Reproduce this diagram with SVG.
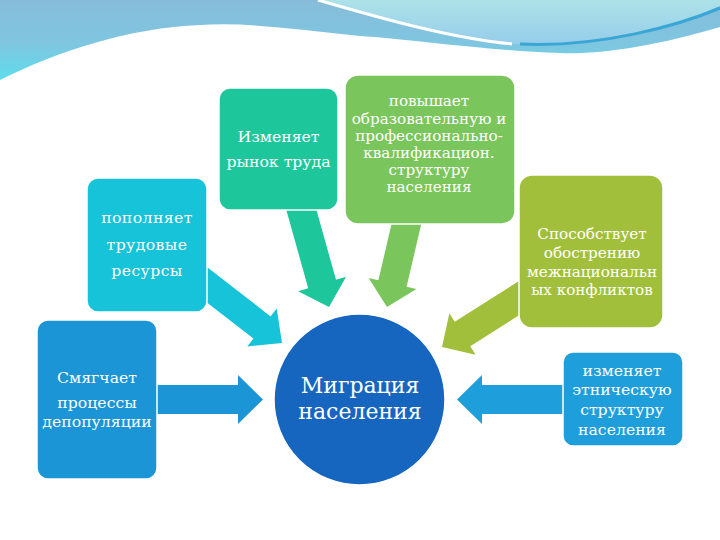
<svg xmlns="http://www.w3.org/2000/svg" width="720" height="540" viewBox="0 0 720 540">
<defs>
<linearGradient id="gTop" x1="0" y1="0" x2="0" y2="1">
<stop offset="0" stop-color="#86bcda"/>
<stop offset="0.55" stop-color="#7fc6e0"/>
<stop offset="1" stop-color="#5fdcec"/>
</linearGradient>
<linearGradient id="gLight" x1="0" y1="0" x2="0" y2="1">
<stop offset="0" stop-color="#ade2e8"/>
<stop offset="1" stop-color="#95cdea"/>
</linearGradient>
<style>
.t{font-family:"DejaVu Serif","Liberation Serif",serif;fill:#ffffff;text-anchor:middle;}
.s14{font-size:15.2px;}
.s15{font-size:15.7px;}
.big{font-size:22px;}
.box{stroke:#ffffff;stroke-width:1.5;}
</style>
</defs>
<rect width="720" height="540" fill="#ffffff"/>
<g id="header">
<path d="M0,0 H720 V27 C660,45 600,55 560,53 C480,50 420,40 360,36 C300,30 250,22 200,25 C130,28 60,50 0,80 Z" fill="url(#gTop)"/>
<path d="M318,0 C380,18 450,38 512,44 C600,50 680,25 720,6 V0 Z" fill="url(#gLight)"/>
<path d="M318,0 C380,18 450,38 512,44" fill="none" stroke="#ffffff" stroke-width="3"/>
<path d="M520,44 C600,48 680,25 720,8" fill="none" stroke="#3aa6d6" stroke-width="3"/>
</g>
<g id="connectors">
<polygon fill="#1ec79b" points="313.9,200.8 336,279.8 346.1,276.8 329,307 298.1,291.2 308.2,288.2 286.1,209.2"/>
<polygon fill="#7ac55c" points="421.9,221.3 406.6,286.8 416.4,289.1 387,307 368.6,277.9 378.4,280.2 393.7,214.7"/>
<polygon fill="#a2bf3c" points="542,300.7 470.3,346.2 475.6,354.7 442,347 449.4,313.3 454.7,321.8 526.4,276.3"/>
<polygon fill="#17c3d8" points="199.5,261.3 270.6,316.4 276.7,308.5 282,343 247.3,346.5 253.4,338.6 182.3,283.5"/>
<polygon fill="#1b95d6" points="150,385 238,385 238,375 263,399.5 238,424 238,414 150,414"/>
<polygon fill="#1e9edb" points="570,385 482,385 482,375 457,399.5 482,424 482,414 570,414"/>
</g>
<g id="n-rynok">
<rect class="box" x="219" y="88" width="119" height="122" rx="11" fill="#1ec79b"/>
<text class="t s15" x="278.5" y="142">Изменяет</text>
<text class="t s15" x="278.5" y="167">рынок труда</text>
</g>
<g id="n-popolnyaet">
<rect class="box" x="87" y="178" width="120" height="134" rx="11" fill="#17c3d8"/>
<text class="t s15" x="147" y="223" letter-spacing="0.4">пополняет</text>
<text class="t s15" x="147" y="250" letter-spacing="0.4">трудовые</text>
<text class="t s15" x="147" y="276" letter-spacing="0.4">ресурсы</text>
</g>
<g id="n-povyshaet">
<rect class="box" x="345" y="75" width="170" height="149" rx="13" fill="#7ac55c"/>
<text class="t s14" x="429" y="106">повышает</text>
<text class="t s14" x="429" y="123.5">образовательную и</text>
<text class="t s14" x="429" y="141">профессионально-</text>
<text class="t s14" x="429" y="158">квалификацион.</text>
<text class="t s14" x="429" y="175">структуру</text>
<text class="t s14" x="429" y="192">населения</text>
</g>
<g id="n-sposobstvuet">
<rect class="box" x="519" y="175" width="144" height="153" rx="13" fill="#a2bf3c"/>
<text class="t s14" x="592" y="239">Способствует</text>
<text class="t s14" x="592" y="258">обострению</text>
<text class="t s14" x="592" y="277">межнациональн</text>
<text class="t s14" x="592" y="295">ых конфликтов</text>
</g>
<g id="n-smyagchaet">
<rect class="box" x="37" y="320" width="120" height="159" rx="11" fill="#1b95d6"/>
<text class="t s15" x="97" y="383">Смягчает</text>
<text class="t s15" x="97" y="408">процессы</text>
<text class="t s15" x="97" y="427">депопуляции</text>
</g>
<g id="n-migraciya">
<circle cx="359.5" cy="399.5" r="85.5" fill="#1666c0" stroke="#ffffff" stroke-width="1.5"/>
<text class="t big" x="360" y="393">Миграция</text>
<text class="t big" x="360" y="419">населения</text>
</g>
<g id="n-etnicheskuyu">
<rect class="box" x="563" y="352" width="120" height="94" rx="10" fill="#1e9edb"/>
<text class="t s15" x="622" y="376">изменяет</text>
<text class="t s15" x="622" y="395">этническую</text>
<text class="t s15" x="622" y="415">структуру</text>
<text class="t s15" x="622" y="435">населения</text>
</g>
</svg>
